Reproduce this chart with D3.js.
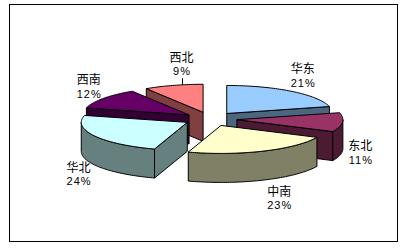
<!DOCTYPE html>
<html>
<head>
<meta charset="utf-8">
<script src="https://cdnjs.cloudflare.com/ajax/libs/d3/7.8.5/d3.min.js"></script>
<style>
body { margin: 0; background: #fff; }
.name { font-family: "Noto Sans CJK SC", sans-serif; font-size: 12px; fill: #000; }
.pct { font-family: "Liberation Sans", Arial, sans-serif; font-size: 11px; fill: #000; letter-spacing: 1px; }
</style>
</head>
<body>
<svg id="chart" width="403" height="250"></svg>
<script>
// data
var regions = ["华东", "东北", "中南", "华北", "西南", "西北"];
var shares = [21, 11, 23, 24, 12, 9];
var pctLabels = ["21%", "11%", "23%", "24%", "12%", "9%"];

// colours (top face / side faces)
var topFill = ["#99ccff", "#993366", "#ffffcc", "#ccffff", "#660066", "#ff8080"];
var sideFill = ["#4c6680", "#4d1a33", "#808066", "#668080", "#330033", "#804040"];

// layout
var width = 403, height = 250;
var cx = 210.5, cy = 119, rx = 106, ry = 28, depth = 29, explode = 0.25;
var labelNudge = { "中南": [9, 0], "西北": [13, -2] };
var leaderFor = ["西北"];

var svg = d3.select("#chart");

svg.append("rect")
  .attr("x", 9.5).attr("y", 4.5)
  .attr("width", 388).attr("height", 237)
  .attr("fill", "#fff").attr("stroke", "#000").attr("stroke-width", 1);

// unit circle -> flattened ellipse
var ex = d3.scaleLinear().domain([-1, 1]).range([-rx, rx]);
var ey = d3.scaleLinear().domain([-1, 1]).range([ry, -ry]);

var pie = d3.pie().sort(null).value(function(d) { return d.v; });
var slices = pie(regions.map(function(r, i) { return { name: r, v: shares[i], pct: pctLabels[i], i: i }; }));

slices.forEach(function(s) {
  s.mid = (s.startAngle + s.endAngle) / 2;
  s.ax = cx + explode * ex(Math.sin(s.mid));
  s.ay = cy + explode * ey(Math.cos(s.mid));
});

function rim(s, t, dz) {
  return [s.ax + ex(Math.sin(t)), s.ay + ey(Math.cos(t)) + (dz || 0)];
}
function arcPts(s, t0, t1, dz) {
  var n = Math.max(2, Math.ceil(Math.abs(t1 - t0) / 0.02));
  return d3.range(n + 1).map(function(k) { return rim(s, t0 + (t1 - t0) * k / n, dz); });
}
var line = d3.line();

function cutFace(s, t) {
  var p = rim(s, t);
  return line([[s.ax, s.ay], p, [p[0], p[1] + depth], [s.ax, s.ay + depth]]) + "Z";
}

// back slices first
var order = slices.slice().sort(function(a, b) { return -Math.cos(a.mid) + Math.cos(b.mid); });

order.forEach(function(s) {
  var g = svg.append("g")
    .attr("stroke", "#000").attr("stroke-width", 1).attr("stroke-linejoin", "round");
  var a0 = s.startAngle, a1 = s.endAngle;

  if (Math.sin(a0) < -1e-6) {
    g.append("path").attr("d", cutFace(s, a0)).attr("fill", sideFill[s.data.i]);
  }
  if (Math.sin(a1) > 1e-6) {
    g.append("path").attr("d", cutFace(s, a1)).attr("fill", sideFill[s.data.i]);
  }
  var o0 = Math.max(a0, Math.PI / 2), o1 = Math.min(a1, Math.PI * 1.5);
  if (o1 > o0) {
    var pts = arcPts(s, o0, o1, 0).concat(arcPts(s, o1, o0, depth));
    g.append("path").attr("d", line(pts) + "Z").attr("fill", sideFill[s.data.i]);
  }
  var topPts = [[s.ax, s.ay]].concat(arcPts(s, a0, a1, 0));
  g.append("path").attr("d", line(topPts) + "Z").attr("fill", topFill[s.data.i]);
});

// labels
slices.forEach(function(s) {
  var sn = Math.sin(s.mid), cs = Math.cos(s.mid);
  var p = rim(s, s.mid);
  var lx = p[0] + 18 * sn;
  var ly = p[1] - 20 * cs + (cs < 0 ? depth : 0);
  var nd = labelNudge[s.data.name];
  if (nd) { lx += nd[0]; ly += nd[1]; }

  svg.append("text").attr("class", "name")
    .attr("x", lx).attr("y", ly - 7).attr("dy", "0.36em")
    .attr("text-anchor", "middle").text(s.data.name);
  svg.append("text").attr("class", "pct")
    .attr("x", lx + 0.5).attr("y", ly + 7).attr("dy", "0.36em")
    .attr("text-anchor", "middle").text(s.data.pct);

  if (leaderFor.indexOf(s.data.name) >= 0) {
    var sx = Math.max(-1, Math.min(1, (lx - s.ax) / rx));
    var t = Math.asin(sx);
    var yr = s.ay + ey(Math.cos(t));
    svg.append("line")
      .attr("x1", Math.round(lx) + 0.5).attr("x2", Math.round(lx) + 0.5)
      .attr("y1", ly + 14).attr("y2", yr)
      .attr("stroke", "#000").attr("stroke-width", 1);
  }
});
</script>
</body>
</html>
